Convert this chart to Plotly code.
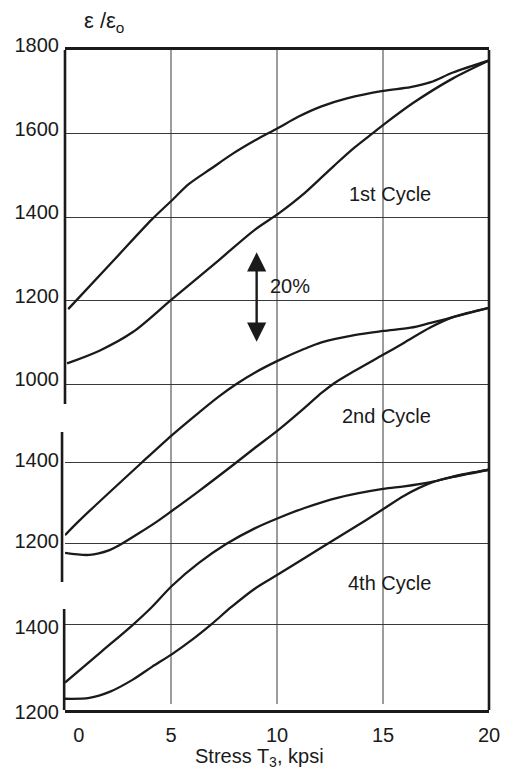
import plotly.graph_objects as go

# Stress (kpsi) and relative permittivity readings for each loading cycle
cycle1_upper_x = [0.15, 2.3, 4.1, 5.05, 5.85, 6.9, 7.9, 8.95, 10.05, 11.0, 12.1, 13.3, 15.0, 16.3, 17.25, 18.3, 20.0]
cycle1_upper_y = [1180, 1297, 1395, 1441, 1480, 1517, 1552, 1584, 1614, 1641, 1666, 1685, 1703, 1712, 1724, 1747, 1776]

cycle1_lower_x = [0.1, 1.65, 3.2, 5.05, 7.25, 8.95, 10.1, 11.3, 12.7, 13.65, 14.55, 15.0, 16.45, 18.3, 20.0]
cycle1_lower_y = [1050, 1081, 1125, 1204, 1297, 1370, 1410, 1458, 1524, 1567, 1603, 1621, 1675, 1733, 1776]

cycle2_upper_x = [0.0, 0.7, 3.6, 5.05, 6.3, 7.25, 8.05, 8.95, 10.1, 11.3, 12.1, 13.65, 15.0, 16.3, 17.25, 18.3, 20.0]
cycle2_upper_y = [1222, 1259, 1400, 1469, 1524, 1564, 1594, 1623, 1654, 1682, 1698, 1716, 1726, 1734, 1746, 1760, 1783]

cycle2_lower_x = [0.0, 1.15, 2.1, 2.6, 3.5, 4.3, 5.05, 6.3, 8.05, 8.95, 10.1, 11.3, 12.1, 12.7, 13.65, 15.0, 16.0, 17.25, 18.3, 20.0]
cycle2_lower_y = [1178, 1173, 1185, 1198, 1227, 1254, 1282, 1330, 1400, 1437, 1483, 1536, 1573, 1597, 1627, 1667, 1697, 1735, 1760, 1783]

cycle4_upper_x = [0.0, 1.65, 3.2, 4.1, 5.05, 6.3, 7.6, 8.95, 10.1, 11.3, 12.85, 15.0, 16.0, 17.25, 18.3, 20.0]
cycle4_upper_y = [1264, 1334, 1400, 1442, 1492, 1545, 1590, 1627, 1652, 1675, 1699, 1720, 1726, 1736, 1748, 1765]

cycle4_lower_x = [0.0, 1.15, 2.1, 3.2, 4.1, 5.05, 6.0, 6.9, 7.85, 8.95, 10.1, 12.1, 14.25, 15.0, 16.0, 17.25, 18.3, 20.0]
cycle4_lower_y = [1226, 1228, 1242, 1271, 1301, 1331, 1365, 1401, 1442, 1485, 1520, 1582, 1648, 1672, 1704, 1734, 1749, 1765]

x_ticks = [0, 5, 10, 15, 20]
x_tick_text = ["\u00a0" * 5 + "0", "5", "10", "15", "20"]
x_grid = [5, 10, 15]
cycle1_ticks = [1000, 1200, 1400, 1600, 1800]
cycle2_ticks = [1200, 1400]
cycle4_ticks = [1200, 1400]

cycle_labels = ["1st Cycle", "2nd Cycle", "4th Cycle"]

FONT = "Liberation Sans, Arial, Helvetica, sans-serif"
INK = "#1a1a1a"
GRID = "#3a3a3a"

fig = go.Figure()

curve_style = dict(mode="lines", line=dict(color=INK, width=2.3, shape="spline", smoothing=0.9),
                   showlegend=False, hoverinfo="skip")

fig.add_trace(go.Scatter(x=cycle1_upper_x, y=cycle1_upper_y, yaxis="y", **curve_style))
fig.add_trace(go.Scatter(x=cycle1_lower_x, y=cycle1_lower_y, yaxis="y", **curve_style))
fig.add_trace(go.Scatter(x=cycle2_upper_x, y=cycle2_upper_y, yaxis="y2", **curve_style))
fig.add_trace(go.Scatter(x=cycle2_lower_x, y=cycle2_lower_y, yaxis="y2", **curve_style))
fig.add_trace(go.Scatter(x=cycle4_upper_x, y=cycle4_upper_y, yaxis="y3", **curve_style))
fig.add_trace(go.Scatter(x=cycle4_lower_x, y=cycle4_lower_y, yaxis="y3", **curve_style))

tick_font = dict(family=FONT, size=20, color=INK)
y_common = dict(showline=False, zeroline=False, showgrid=True, gridcolor=GRID, gridwidth=1,
                ticks="", tickfont=tick_font, ticklabelstandoff=5, fixedrange=True)

fig.update_layout(
    width=512, height=773,
    margin=dict(l=65, r=20, t=50, b=63),
    paper_bgcolor="white", plot_bgcolor="white",
    xaxis=dict(range=[0, 20], tickvals=x_ticks, ticktext=x_tick_text, showgrid=False, zeroline=False,
               showline=True, mirror=True, linecolor=INK, linewidth=2.6,
               ticks="", tickfont=tick_font, ticklabelstandoff=5, fixedrange=True),
    # three stacked scales share one plotting frame, each offset so its curves sit in its band
    yaxis=dict(range=[219.2, 1801], tickvals=cycle1_ticks, ticklabelshift=-5, **y_common),
    yaxis2=dict(range=[790.1, 2419.75], tickvals=cycle2_ticks, overlaying="y", side="left",
                ticklabelshift=-3, **y_common),
    yaxis3=dict(range=[1199.5, 2752.9], tickvals=cycle4_ticks, overlaying="y", side="left",
                ticklabelshift=2, **y_common),
)

shapes = []
# vertical grid lines
for gx in x_grid:
    shapes.append(dict(type="line", xref="x", yref="paper", x0=gx, x1=gx, y0=0.009, y1=1,
                       line=dict(color=GRID, width=1), layer="below"))
# right border
shapes.append(dict(type="line", xref="paper", yref="paper", x0=1, x1=1, y0=0, y1=1,
                   line=dict(color=INK, width=2.6)))
# broken left axis: one spine per cycle scale
for x_off, y0, y1 in [(0.0, 0.4636, 1.0), (-0.007, 0.1939, 0.4212), (-0.002, 0.0, 0.153)]:
    shapes.append(dict(type="line", xref="paper", yref="paper", x0=x_off, x1=x_off, y0=y0, y1=y1,
                       line=dict(color=INK, width=2.6)))
fig.update_layout(shapes=shapes)

label_font = dict(family=FONT, size=20, color=INK)
annotations = [
    dict(text=cycle_labels[0], x=15.34, y=1456, xref="x", yref="y", showarrow=False, font=label_font),
    dict(text=cycle_labels[1], x=15.15, y=1516, xref="x", yref="y2", showarrow=False, font=label_font),
    dict(text=cycle_labels[2], x=15.32, y=1499, xref="x", yref="y3", showarrow=False, font=label_font),
    dict(text="20%", x=10.62, y=1236, xref="x", yref="y", showarrow=False, font=label_font),
    # double-headed scale arrow spanning 20 %
    dict(text="", x=9.04, y=1316, ax=9.04, ay=1098, xref="x", yref="y", axref="x", ayref="y",
         showarrow=True, arrowside="end+start", arrowhead=2, startarrowhead=2,
         arrowsize=1.6, startarrowsize=1.6, arrowwidth=2.4, arrowcolor=INK),
    dict(text="ε /ε<sub>o</sub>", x=0.04, y=1.043, xref="paper", yref="paper", xanchor="left",
         yanchor="middle", showarrow=False, font=dict(family=FONT, size=22, color=INK)),
    dict(text="Stress T<sub>3</sub>, kpsi", x=0.459, y=-0.072, xref="paper", yref="paper",
         xanchor="center", yanchor="middle", showarrow=False, font=label_font),
]
fig.update_layout(annotations=annotations)

fig.write_html("out.html")
